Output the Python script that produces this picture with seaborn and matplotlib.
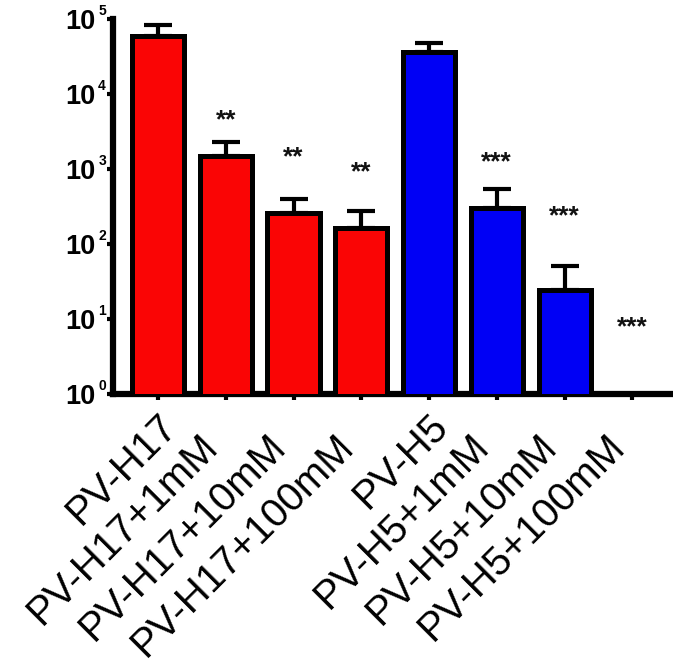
import numpy as np
import pandas as pd
import matplotlib
matplotlib.use("Agg")
import matplotlib.pyplot as plt
import matplotlib.transforms as mtransforms
import seaborn as sns

categories = ["PV-H17", "PV-H17+1mM", "PV-H17+10mM", "PV-H17+100mM",
              "PV-H5", "PV-H5+1mM", "PV-H5+10mM", "PV-H5+100mM"]
values = [59000, 1500, 260, 165, 36000, 300, 24, np.nan]
upper_err = [83000, 2300, 400, 275, 48000, 540, 51, np.nan]
bar_colors = ["#FA0505", "#FA0505", "#FA0505", "#FA0505",
              "#0000F5", "#0000F5", "#0000F5", "#0000F5"]
stars = ["", "**", "**", "**", "", "***", "***", "***"]
star_y = [np.nan, 4500, 1450, 910, np.nan, 1240, 235, 7.8]
ytick_vals = [1, 10, 100, 1000, 10000, 100000]
ytick_base = "10"
ytick_exps = ["0", "1", "2", "3", "4", "5"]

sns.set_style("ticks")
plt.rcParams["font.family"] = ["Liberation Sans", "DejaVu Sans"]
plt.rcParams["text.color"] = "black"
plt.rcParams["xtick.color"] = "black"
plt.rcParams["ytick.color"] = "black"
plt.rcParams["axes.edgecolor"] = "black"

df = pd.DataFrame({"cat": categories, "val": values})

fig = plt.figure(figsize=(6.73, 6.66), dpi=100)
ax = fig.add_axes([113 / 673, (666 - 394) / 666, 560 / 673, 375 / 666])
ax.set_yscale("log")

x = np.arange(len(categories))
vals = np.array(values, dtype=float)
errs = np.array(upper_err, dtype=float) - vals
ax.errorbar(x, vals, yerr=[np.zeros_like(errs), errs], fmt="none",
            ecolor="black", elinewidth=3, capsize=10, capthick=3, zorder=1)

sns.barplot(data=df, x="cat", y="val", hue="cat", order=categories,
            palette=bar_colors, legend=False, width=0.77,
            edgecolor="black", linewidth=3.6, saturation=1, ax=ax, zorder=3)

for i, (s, yv) in enumerate(zip(stars, star_y)):
    if s:
        ax.text(i, yv, s, ha="center", va="center", fontsize=19,
                fontweight="bold", color="#111111")

ax.set_ylim(1, 1e5)
ax.set_xlim(-0.665, 7.6)

# y tick labels: bold "10" with a small top-aligned exponent
ax.set_yticks(ytick_vals)
ax.set_yticklabels([ytick_base] * len(ytick_vals), fontsize=19.5,
                   fontweight="bold", color="black")
ax.yaxis.set_minor_locator(matplotlib.ticker.NullLocator())
for lab in ax.get_yticklabels():
    lab.set_transform(lab.get_transform() +
                      mtransforms.ScaledTranslation(0, 2.5 / 100, fig.dpi_scale_trans))
ytrans = ax.get_yaxis_transform()
for yv, e in zip(ytick_vals, ytick_exps):
    t = mtransforms.offset_copy(ytrans, fig=fig, x=-7, y=15, units="dots")
    ax.text(0, yv, e, transform=t, ha="right", va="top", fontsize=10,
            fontweight="bold", color="black")

# x tick labels drawn as rotated texts anchored at their baseline end
ax.set_xticks(x)
ax.set_xticklabels([])
xtrans = ax.get_xaxis_transform()
for i, lab in enumerate(categories):
    if "+" in lab:
        dx, dy = -6, 54
    else:
        dx, dy = 21, 34
    t = mtransforms.offset_copy(xtrans, fig=fig, x=dx, y=-dy, units="dots")
    ax.text(i, 0, lab, transform=t, rotation=45, rotation_mode="anchor",
            ha="right", va="baseline", fontsize=29, color="black")

ax.set_xlabel("")
ax.set_ylabel("")
for side in ["top", "right"]:
    ax.spines[side].set_visible(False)
for side in ["left", "bottom"]:
    ax.spines[side].set_linewidth(4.5)
ax.tick_params(axis="both", which="major", length=4, width=3, direction="out",
               color="black")
ax.tick_params(axis="y", pad=8.6)

fig.savefig("out.png", dpi=100)
